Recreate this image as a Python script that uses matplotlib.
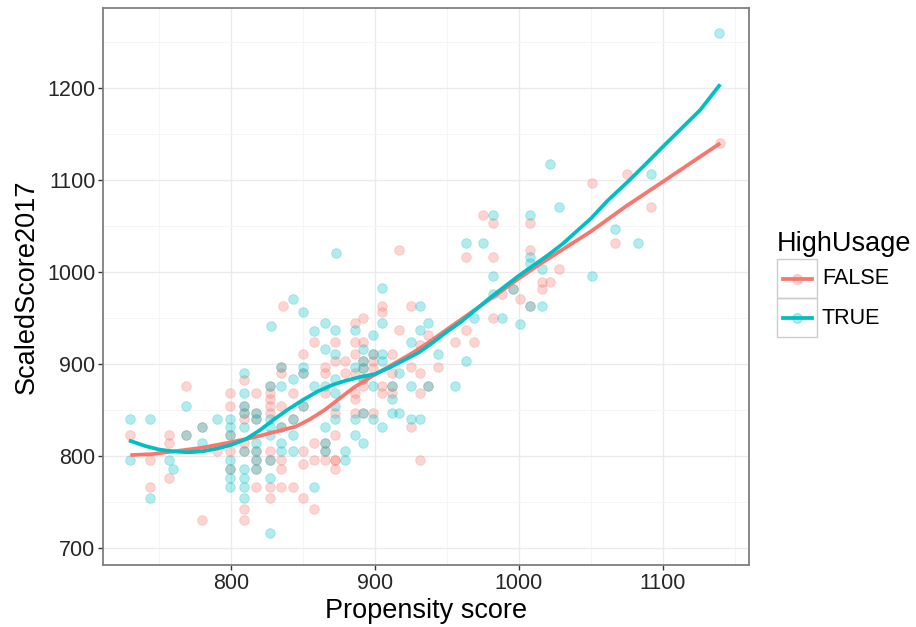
import matplotlib
matplotlib.use("Agg")
import matplotlib.pyplot as plt
from matplotlib.patches import Rectangle
from matplotlib.lines import Line2D

plt.rcParams['font.family'] = ['Liberation Sans', 'DejaVu Sans']

RED = '#F8766D'
TEAL = '#00BFC4'

# HighUsage == FALSE
false_x = [730, 744, 744, 757, 757, 757, 769, 780, 790, 799, 799, 799,
           809, 809, 809, 809, 809, 817, 817, 827, 827, 827, 827, 827, 827, 827,
           835, 835, 835, 835, 835, 835, 836, 843, 843, 850, 850, 850, 850,
           858, 858, 858, 858, 865, 865, 865, 865,
           872, 872, 872, 872, 872, 872, 872, 879, 879,
           886, 886, 886, 886, 886, 886, 886, 892, 892, 892, 899, 899, 899,
           905, 905, 905, 905, 912, 912, 912, 917, 917, 925, 925, 925,
           931, 931, 931, 931, 937, 944, 956, 963, 963, 969, 975,
           982, 982, 982, 988, 1001, 1008, 1008, 1016, 1016, 1022, 1028,
           1051, 1067, 1075, 1092, 1140]
false_y = [823, 796, 766, 823, 814, 776, 876, 730, 805, 869, 854, 805,
           883, 840, 814, 742, 730, 869, 766, 869, 862, 854, 847, 805, 766, 754,
           897, 890, 854, 796, 786, 766, 963, 869, 766, 911, 805, 791, 754,
           924, 814, 796, 742, 897, 890, 869, 796,
           924, 903, 847, 823, 796, 796, 786, 903, 890,
           945, 924, 911, 890, 869, 862, 847, 950, 924, 876, 903, 896, 847,
           963, 957, 876, 869, 911, 890, 869, 1024, 937, 963, 897, 832,
           921, 890, 869, 796, 932, 897, 924, 1016, 937, 924, 1062,
           1053, 1016, 950, 976, 971, 1053, 1024, 989, 982, 989, 1003,
           1097, 1031, 1107, 1071, 1140]

# HighUsage == TRUE
true_x = [730, 730, 744, 744, 757, 760, 769, 780, 790, 799, 799, 799, 799, 799,
          809, 809, 809, 809, 809, 809, 809, 817, 827, 827, 827, 827, 827, 828,
          835, 835, 835, 835, 843, 843, 843, 843, 850, 850, 858, 858, 858,
          865, 865, 865, 865, 872, 872, 872, 872, 872, 872, 873, 879, 879,
          886, 886, 886, 886, 892, 892, 899, 899, 899,
          905, 905, 905, 905, 905, 912, 912, 917, 917, 925, 925, 925,
          931, 931, 931, 937, 944, 956, 963, 963, 969, 975,
          982, 982, 982, 988, 1001, 1008, 1008, 1008, 1016, 1016, 1022, 1028,
          1051, 1067, 1083, 1092, 1139]
true_y = [840, 796, 840, 754, 796, 786, 854, 814, 840, 840, 832, 796, 776, 766,
          890, 869, 832, 786, 776, 766, 754, 814, 840, 832, 823, 776, 716, 941,
          897, 876, 814, 805, 971, 884, 823, 805, 957, 897, 936, 876, 766,
          945, 916, 876, 832, 937, 911, 884, 869, 854, 840, 1021, 805, 796,
          937, 897, 840, 823, 916, 814, 932, 876, 840,
          983, 945, 911, 903, 832, 862, 847, 890, 847, 924, 876, 840,
          963, 937, 840, 945, 911, 876, 1031, 903, 950, 1031,
          1062, 996, 976, 950, 943, 1062, 1016, 1010, 1003, 963, 1117, 1071,
          996, 1047, 1031, 1107, 1260]

# points where both groups overlap
both_x = [769, 780, 799, 799, 809, 809, 809, 817, 817, 817, 817, 817, 827, 827,
          835, 843, 850, 850, 865, 865, 892, 892, 892, 892, 899, 912, 937, 996, 1008]
both_y = [823, 832, 823, 786, 854, 847, 805, 847, 840, 805, 796, 786, 876, 796,
          832, 840, 890, 854, 814, 805, 903, 896, 884, 847, 911, 876, 876, 982, 963]

# smoothed curves
false_curve_x = [730, 745, 760, 780, 800, 815, 830, 845, 855, 865, 875, 885, 895,
                 905, 915, 925, 935, 945, 955, 965, 975, 985, 1000, 1015, 1030,
                 1050, 1075, 1100, 1120, 1140]
false_curve_y = [801, 802, 805, 809, 815, 820, 826, 832, 840, 850, 862, 874, 884,
                 893, 902, 911, 921, 932, 943, 954, 965, 976, 993, 1009, 1024,
                 1044, 1072, 1098, 1119, 1140]
true_curve_x = [729, 740, 750, 760, 770, 780, 790, 800, 810, 820, 830, 840, 850,
                860, 870, 880, 890, 900, 910, 920, 930, 940, 950, 960, 970, 980,
                990, 1000, 1010, 1020, 1030, 1040, 1050, 1062, 1075, 1088, 1100,
                1113, 1126, 1140]
true_curve_y = [817, 811, 807, 805, 804, 805, 808, 812, 818, 828, 840, 851, 861,
                870, 877, 882, 886, 889, 896, 904, 912, 923, 935, 946, 959, 972,
                984, 996, 1007, 1018, 1030, 1044, 1058, 1078, 1097, 1117, 1136,
                1156, 1176, 1204]

fig = plt.figure(figsize=(9.16, 6.27), dpi=100)
ax = fig.add_axes([103 / 916, 1 - 565 / 627, (749 - 103) / 916, (565 - 8) / 627])

ax.set_xlim(711, 1160)
ax.set_ylim(681.5, 1287)
ax.set_xticks([800, 900, 1000, 1100])
ax.set_yticks([700, 800, 900, 1000, 1100, 1200])
ax.set_xticks([750, 850, 950, 1050, 1150], minor=True)
ax.set_yticks([750, 850, 950, 1050, 1150, 1250], minor=True)
ax.grid(which='major', color='#EBEBEB', lw=1.0)
ax.grid(which='minor', color='#F5F5F5', lw=0.7)
ax.set_axisbelow(True)
ax.tick_params(which='minor', length=0)
ax.tick_params(which='major', length=3.5, width=1, color='#333333',
               labelsize=15.5, labelcolor='#262626', pad=2)
for s in ax.spines.values():
    s.set_color('#7F7F7F')
    s.set_linewidth(1.3)

pt = dict(s=48, alpha=0.3, linewidths=0.6)
ax.scatter(false_x, false_y, color=RED, **pt)
ax.scatter(both_x, both_y, color=RED, **pt)
ax.scatter(true_x, true_y, color=TEAL, **pt)
ax.scatter(both_x, both_y, color=TEAL, **pt)

ax.plot(false_curve_x, false_curve_y, color=RED, lw=2.7,
        solid_capstyle='butt', solid_joinstyle='round')
ax.plot(true_curve_x, true_curve_y, color=TEAL, lw=2.7,
        solid_capstyle='butt', solid_joinstyle='round')

ax.set_xlabel('Propensity score', fontsize=19.5, labelpad=3)
ax.set_ylabel('ScaledScore2017', fontsize=19.5, labelpad=5)

# legend drawn in pixel space
lg = fig.add_axes([0, 0, 1, 1])
lg.set_xlim(0, 916)
lg.set_ylim(627, 0)
lg.axis('off')
lg.text(777, 244, 'HighUsage', fontsize=19.5, va='center', ha='left')
for i, (lab, col) in enumerate([('FALSE', RED), ('TRUE', TEAL)]):
    y0 = 259 + i * 39
    lg.add_patch(Rectangle((777, y0), 40, 39, fill=False, ec='#CCCCCC', lw=1.0))
    lg.add_line(Line2D([783, 812], [y0 + 20, y0 + 20], color=col, lw=2.7))
    lg.scatter([797], [y0 + 20], s=48, color=col, alpha=0.3)
    lg.text(822, y0 + 20, lab, fontsize=15.5, va='center', ha='left')

fig.savefig('out.png', dpi=100)
